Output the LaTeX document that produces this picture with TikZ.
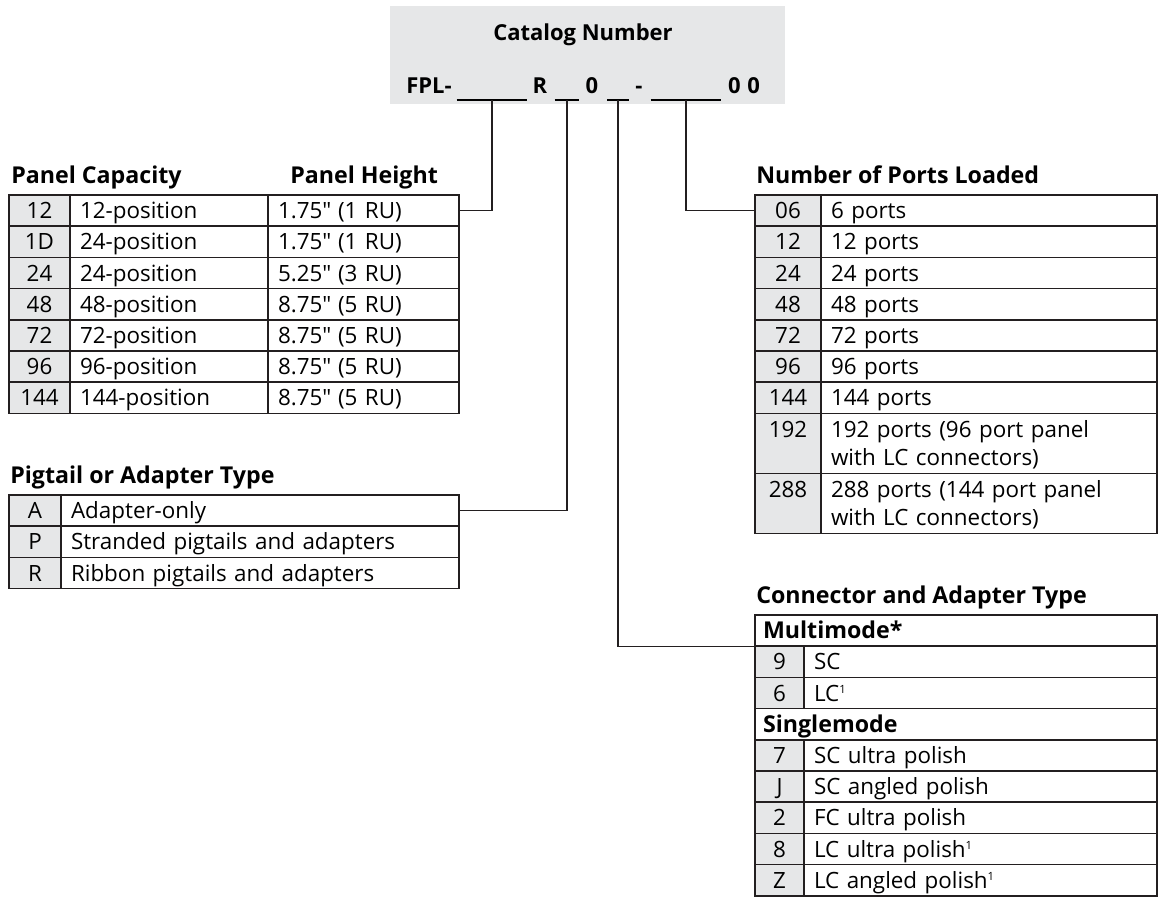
\documentclass[tikz,border=0pt]{standalone}
\usepackage{fontspec}
\setmainfont{Open Sans}
\usetikzlibrary{positioning}
\definecolor{cellgray}{HTML}{E6E7E8}
\definecolor{rulegray}{HTML}{231F20}
\newcommand{\tabfont}{\fontsize{16.8}{21}\selectfont}
\newcommand{\headfont}{\fontsize{17.4}{21}\selectfont\bfseries}
\newcommand{\partfont}{\fontsize{16.5}{21}\selectfont\bfseries}
\newcommand{\fnmark}{\raisebox{5.5pt}{\fontsize{8.5}{9}\selectfont 1}}
\newcommand{\inch}{\textquotedbl\hspace{5pt}}

\begin{document}
\begin{tikzpicture}[x=0.75pt, y=-0.75pt,
  cell/.style={draw=rulegray, line width=1.1pt, minimum height=23.4pt, inner sep=0pt, outer sep=0pt,
    text height=14pt, text depth=2pt, anchor=north west, font=\tabfont},
  code/.style={cell, fill=cellgray, minimum width=#1},
  desc/.style={cell, inner xsep=7.5pt, text width=#1, align=left},
  tall/.style={minimum height=45pt, text height=14pt, text depth=23pt},
  mode/.style={cell, inner xsep=6pt, text width=289.5pt, align=left, font=\headfont},
  head/.style={anchor=base west, inner sep=0pt, font=\headfont},
  part/.style={anchor=base, inner sep=0pt, font=\partfont},
  blank/.style={minimum width=#1, minimum height=4pt, inner sep=0pt, anchor=south},
  uline/.style={draw=black, line width=1.5pt},
  link/.style={draw=rulegray, line width=0.9pt},
]
\useasboundingbox (0,0) rectangle (1160,897);

% catalog number
\node[fill=cellgray, anchor=north west, minimum width=296.25pt, minimum height=73.5pt, inner sep=0pt] (catalog) at (390,6) {};
\node[part] (title) at (583,40) {Catalog Number};
\node[part, anchor=base west] (fpl) at (406,93) {FPL-};
\node[blank=52.5pt] (b1) at (492,100) {};
\node[part] (r) at (540,93) {R};
\node[blank=18pt] (b2) at (567,100) {};
\node[part] (zero) at (592,93) {0};
\node[blank=16pt] (b3) at (618,100) {};
\node[part] (dash) at (639,93) {-};
\node[blank=52.5pt] (b4) at (686,100) {};
\node[part] (zeros) at (744,93) {0\hspace{5pt}0};
\foreach \b in {b1,b2,b3,b4}
  \draw[uline] (\b.south west) -- (\b.south east);

% panel capacity / height
\node[head] (pchead) at (11,183) {Panel Capacity};
\node[head] (phhead) at (290,183) {Panel Height};
\foreach \c/\d/\h [count=\i from 0] in {12/12-position/1.75\inch(1 RU), 1D/24-position/1.75\inch(1 RU), 24/24-position/5.25\inch(3 RU), 48/48-position/8.75\inch(5 RU), 72/72-position/8.75\inch(5 RU), 96/96-position/8.75\inch(5 RU), 144/144-position/8.75\inch(5 RU)}{
  \node[code=45.75pt] (pcc\i) at (9,{195+31.2*\i}) {\c};
  \node[desc=133.5pt, right=0pt of pcc\i] (pcd\i) {\d};
  \node[desc=128.25pt, right=0pt of pcd\i] (ph\i) {\h};
}

% pigtail or adapter
\node[head] (pthead) at (10,483) {Pigtail or Adapter Type};
\foreach \c/\d [count=\i from 0] in {A/Adapter-only, P/Stranded pigtails and adapters, R/Ribbon pigtails and adapters}{
  \node[code=39pt] (ptc\i) at (9,{495+31.2*\i}) {\c};
  \node[desc=283.5pt, right=0pt of ptc\i] (pt\i) {\d};
}

% ports loaded
\node[head] (nphead) at (756,183) {Number of Ports Loaded};
\foreach \c/\d [count=\i from 0] in {06/6 ports, 12/12 ports, 24/24 ports, 48/48 ports, 72/72 ports, 96/96 ports, 144/144 ports}{
  \node[code=49.5pt] (npc\i) at (755,{195+31.2*\i}) {\c};
  \node[desc=237pt, right=0pt of npc\i] (np\i) {\d};
}
\node[code=49.5pt, tall, text width=49.5pt, align=center, below=0pt of npc6] (npc7) {192};
\node[desc=237pt, tall, right=0pt of npc7] (np7) {192 ports (96 port panel\\with LC connectors)};
\node[code=49.5pt, tall, text width=49.5pt, align=center, below=0pt of npc7] (npc8) {288};
\node[desc=237pt, tall, right=0pt of npc8] (np8) {288 ports (144 port panel\\with LC connectors)};

% connector and adapter
\node[head] (cthead) at (756,603) {Connector and Adapter Type};
\node[mode] (mm) at (755,615) {Multimode*};
\foreach \c/\d [count=\i from 0] in {9/SC, 6/LC\fnmark}{
  \node[code=36.75pt] (mmc\i) at (755,{646.2+31.2*\i}) {\c};
  \node[desc=249.75pt, right=0pt of mmc\i] (mmd\i) {\d};
}
\node[mode] (sm) at (755,708.6) {Singlemode};
\foreach \c/\d [count=\i from 0] in {7/SC ultra polish, J/SC angled polish, 2/FC ultra polish, 8/LC ultra polish\fnmark, Z/LC angled polish\fnmark}{
  \node[code=36.75pt] (smc\i) at (755,{739.8+31.2*\i}) {\c};
  \node[desc=249.75pt, right=0pt of smc\i] (smd\i) {\d};
}

% connectors
\draw[link] (b1.south) |- (ph0.east);
\draw[link] (b2.south) |- (pt0.east);
\draw[link] (b3.south) |- (mm.south west);
\draw[link] (b4.south) |- (npc0.west);

\end{tikzpicture}
\end{document}
